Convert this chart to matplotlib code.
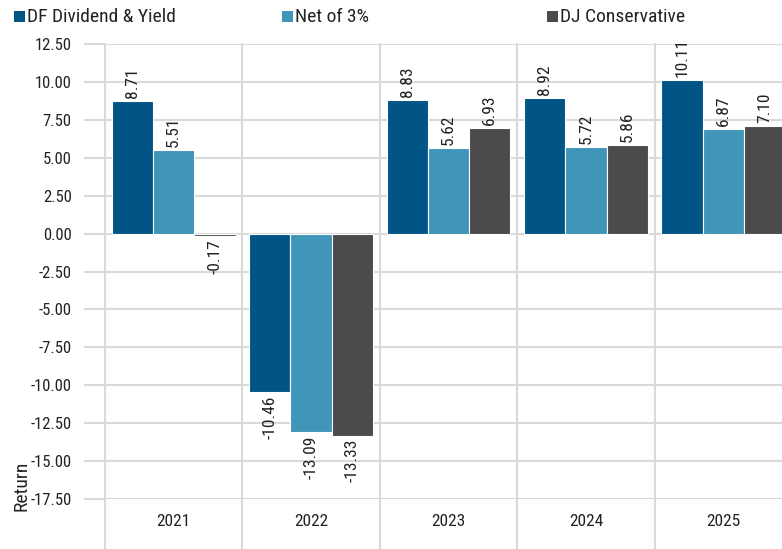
import matplotlib
matplotlib.use('Agg')
import matplotlib.pyplot as plt
import matplotlib.patches as patches
from matplotlib import font_manager
import numpy as np

# Dados
anos = ['2021', '2022', '2023', '2024', '2025']
series = ['DF Dividend & Yield', 'Net of 3%', 'DJ Conservative']
df_dividend = [8.71, -10.46, 8.83, 8.92, 10.11]
net_3 = [5.51, -13.09, 5.62, 5.72, 6.87]
dj_conservative = [-0.17, -13.33, 6.93, 5.86, 7.10]
ticks_y = [12.5, 10.0, 7.5, 5.0, 2.5, 0.0, -2.5, -5.0, -7.5, -10.0, -12.5, -15.0, -17.5]

# Cores
cores = ['#005486', '#3f96b8', '#4b4b4d']
cor_grade = '#d9d9d9'
cor_texto = '#222222'

# Fonte estreita, se houver
nomes = {f.name for f in font_manager.fontManager.ttflist}
fonte = 'DejaVu Sans'
for cand in ['Roboto Condensed', 'Liberation Sans Narrow', 'Open Sans Condensed']:
    if cand in nomes:
        fonte = cand
        break
plt.rcParams['font.family'] = fonte
plt.rcParams['font.stretch'] = 'condensed'

W, H = 782, 549
fig = plt.figure(figsize=(W / 100, H / 100), dpi=100)
ax = fig.add_axes([105 / W, (H - 499) / H, 687 / W, 455 / H])

x = np.arange(len(anos))
largura = 0.3
for i, (vals, cor) in enumerate(zip([df_dividend, net_3, dj_conservative], cores)):
    pos = x + (i - 1) * largura
    ax.bar(pos, vals, largura, color=cor, edgecolor='white', linewidth=0.8, zorder=3)
    for px, v in zip(pos, vals):
        if v >= 0:
            ax.text(px, v + 0.2, f'{v:.2f}', rotation=90, ha='center', va='bottom',
                    fontsize=12.5, color=cor_texto, zorder=4)
        else:
            ax.text(px, v - 0.2, f'{v:.2f}', rotation=90, ha='center', va='top',
                    fontsize=12.5, color=cor_texto, zorder=4)

ax.set_xlim(-0.5, len(anos) - 0.5)
ax.set_ylim(-17.5, 12.5)
ax.set_yticks(ticks_y)
ax.set_yticklabels([f'{t:.2f}' for t in ticks_y])
ax.set_xticks(x)
ax.set_xticklabels(anos)
ax.tick_params(axis='y', length=15, width=1.5, color=cor_grade, pad=9, labelsize=12, labelcolor=cor_texto)
ax.tick_params(axis='x', length=0, pad=11, labelsize=12.5, labelcolor=cor_texto)
for s in ax.spines.values():
    s.set_visible(False)
ax.grid(axis='y', color=cor_grade, linewidth=1.5, zorder=0)

# Linhas verticais entre categorias, descendo ate o fim da figura
for b in np.arange(-0.5, len(anos) + 0.5, 1):
    ax.plot([b, b], [12.5, -21.0], color=cor_grade, linewidth=1.5, zorder=0, clip_on=False)

# Titulo do eixo
fig.text(22 / W, 1 - 511 / H, 'Return', rotation=90, ha='center', va='bottom',
         fontsize=14, color=cor_texto)

# Legenda
legenda_x = [14, 282, 547]
for lx, nome, cor in zip(legenda_x, series, cores):
    fig.patches.append(patches.Rectangle((lx / W, 1 - 22 / H), 11 / W, 11 / H,
                                         transform=fig.transFigure, facecolor=cor, edgecolor='none'))
    fig.text((lx + 13) / W, 1 - 17 / H, nome, ha='left', va='center', fontsize=14, color=cor_texto)

fig.savefig('out.png', dpi=100)
